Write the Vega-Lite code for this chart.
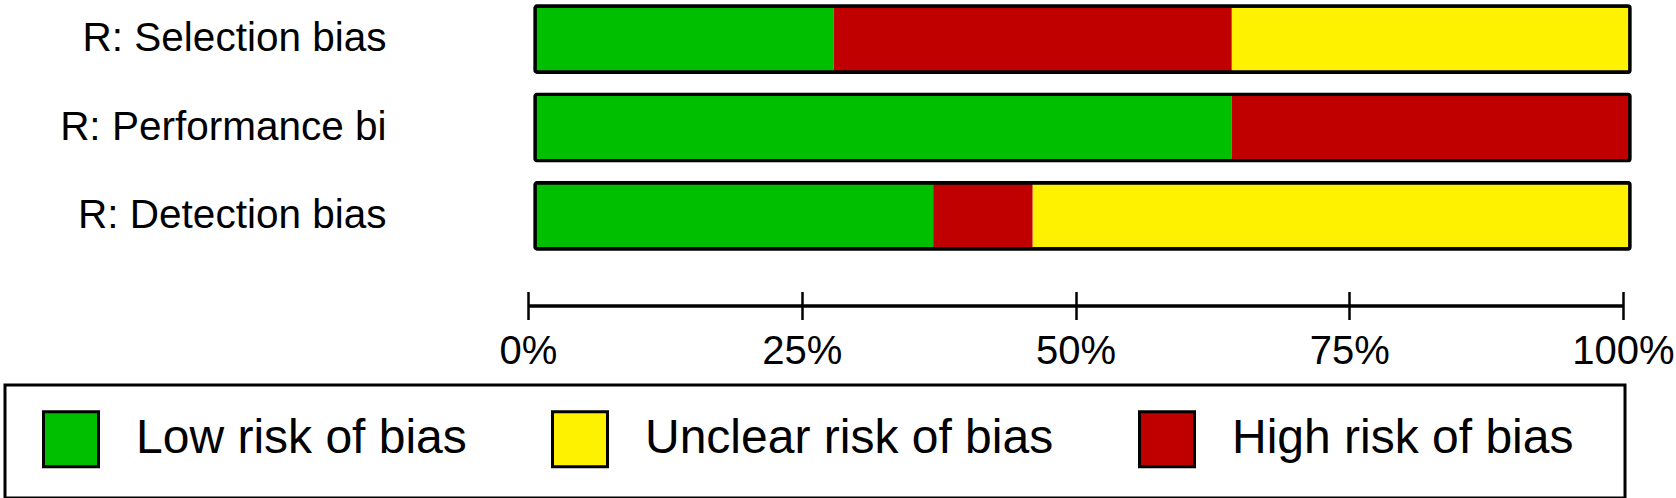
{
  "$schema": "https://vega.github.io/schema/vega-lite/v6.json",
  "width": 1095,
  "height": 243,
  "autosize": {"type": "none"},
  "padding": {"left": 535, "top": 6, "right": 46, "bottom": 249},
  "background": "white",
  "config": {
    "font": "Liberation Sans",
    "view": {"stroke": null},
    "axis": {"labelColor": "black", "grid": false}
  },
  "data": {
    "values": [
      {"domain": "R: Selection bias", "risk": "Low risk of bias", "n": 3},
      {"domain": "R: Selection bias", "risk": "High risk of bias", "n": 4},
      {"domain": "R: Selection bias", "risk": "Unclear risk of bias", "n": 4},
      {"domain": "R: Performance bi", "risk": "Low risk of bias", "n": 7},
      {"domain": "R: Performance bi", "risk": "High risk of bias", "n": 4},
      {"domain": "R: Detection bias", "risk": "Low risk of bias", "n": 4},
      {"domain": "R: Detection bias", "risk": "High risk of bias", "n": 1},
      {"domain": "R: Detection bias", "risk": "Unclear risk of bias", "n": 6}
    ]
  },
  "encoding": {
    "y": {
      "field": "domain",
      "type": "nominal",
      "sort": ["R: Selection bias", "R: Performance bi", "R: Detection bias"],
      "scale": {"paddingInner": 0.25, "paddingOuter": 0},
      "axis": {
        "title": null,
        "domain": false,
        "ticks": false,
        "tickSize": 0,
        "labelPadding": 149,
        "labelFontSize": 40.5,
        "labelLimit": 500
      }
    }
  },
  "layer": [
    {
      "transform": [{"window": [{"op": "row_number", "as": "seq"}]}],
      "mark": {"type": "bar", "cornerRadius": 2},
      "encoding": {
        "x": {
          "field": "n",
          "type": "quantitative",
          "stack": "normalize",
          "scale": {"domain": [0, 1], "nice": false},
          "axis": {
            "orient": "bottom",
            "title": null,
            "domain": false,
            "values": [0, 0.25, 0.5, 0.75, 1],
            "format": ".0%",
            "tickSize": 28,
            "tickWidth": 2.5,
            "tickColor": "black",
            "labelFontSize": 40,
            "labelPadding": 12,
            "labelFlush": false,
            "labelOverlap": false,
            "offset": 42.5,
            "position": -7
          }
        },
        "order": {"field": "seq", "type": "quantitative"},
        "color": {
          "field": "risk",
          "type": "nominal",
          "scale": {
            "domain": ["Low risk of bias", "Unclear risk of bias", "High risk of bias"],
            "range": ["#00BF00", "#FFF200", "#C00000"]
          },
          "legend": {
            "orient": "none",
            "legendX": -530,
            "legendY": 379,
            "direction": "horizontal",
            "title": "\u00a0",
            "titleOrient": "right",
            "titlePadding": 27,
            "titleFontSize": 8,
            "padding": 25,
            "strokeColor": "black",
            "fillColor": "white",
            "symbolType": "square",
            "symbolSize": 3025,
            "symbolOffset": 12,
            "symbolStrokeColor": "black",
            "symbolStrokeWidth": 3,
            "symbolOpacity": 1,
            "labelFontSize": 48,
            "labelColor": "black",
            "labelOffset": 36,
            "labelLimit": 600,
            "columnPadding": 72,
            "encode": {
              "legend": {"update": {"strokeWidth": {"value": 3}}},
              "symbols": {"update": {"stroke": {"value": "black"}, "strokeWidth": {"value": 3}}}
            }
          }
        }
      }
    },
    {
      "transform": [{"aggregate": [{"op": "sum", "field": "n", "as": "total"}], "groupby": ["domain"]}],
      "mark": {"type": "bar", "filled": false, "stroke": "black", "strokeWidth": 3.3, "cornerRadius": 2},
      "encoding": {
        "x": {
          "field": "total",
          "type": "quantitative",
          "stack": "normalize",
          "axis": {
            "orient": "bottom",
            "title": null,
            "domain": true,
            "domainColor": "black",
            "domainWidth": 3.5,
            "ticks": false,
            "labels": false,
            "offset": 56.5,
            "position": -7
          }
        }
      }
    }
  ],
  "resolve": {"axis": {"x": "independent"}}
}
